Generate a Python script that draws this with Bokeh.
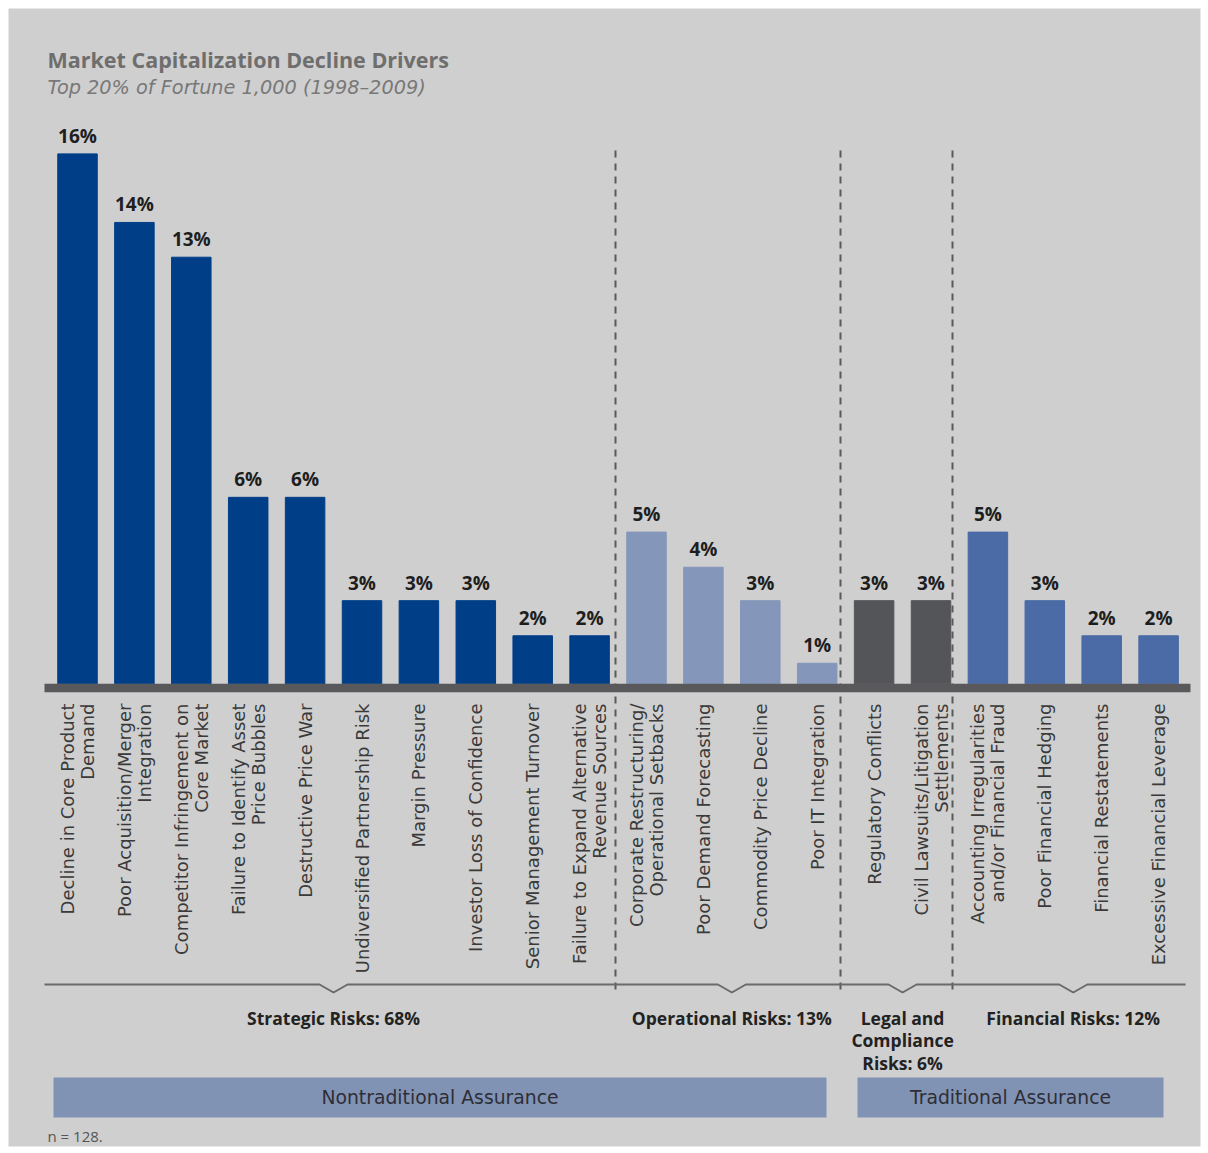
import math
from bokeh.plotting import figure
from bokeh.models import Range1d, ColumnDataSource
from bokeh.core.properties import value
from bokeh.embed import file_html
from bokeh.resources import INLINE

# ---------------- data ----------------
categories = [
    "Decline in Core Product\nDemand",
    "Poor Acquisition/Merger\nIntegration",
    "Competitor Infringement on\nCore Market",
    "Failure to Identify Asset\nPrice Bubbles",
    "Destructive Price War",
    "Undiversified Partnership Risk",
    "Margin Pressure",
    "Investor Loss of Confidence",
    "Senior Management Turnover",
    "Failure to Expand Alternative\nRevenue Sources",
    "Corporate Restructuring/\nOperational Setbacks",
    "Poor Demand Forecasting",
    "Commodity Price Decline",
    "Poor IT Integration",
    "Regulatory Conflicts",
    "Civil Lawsuits/Litigation\nSettlements",
    "Accounting Irregularities\nand/or Financial Fraud",
    "Poor Financial Hedging",
    "Financial Restatements",
    "Excessive Financial Leverage",
]
values = [16.0, 13.93, 12.88, 5.63, 5.63, 2.51, 2.51, 2.51, 1.45, 1.45,
          4.58, 3.52, 2.51, 0.62,
          2.51, 2.51,
          4.58, 2.51, 1.45, 1.45]
value_labels = ["16%", "14%", "13%", "6%", "6%", "3%", "3%", "3%", "2%", "2%",
                "5%", "4%", "3%", "1%",
                "3%", "3%",
                "5%", "3%", "2%", "2%"]
group_of_bar = [0] * 10 + [1] * 4 + [2] * 2 + [3] * 4
group_names = ["Strategic Risks: 68%", "Operational Risks: 13%",
               "Legal and\nCompliance\nRisks: 6%", "Financial Risks: 12%"]
group_colors = ["#003e88", "#8497ba", "#545559", "#4a6ba5"]
assurance_names = ["Nontraditional Assurance", "Traditional Assurance"]

TITLE = "Market Capitalization Decline Drivers"
SUBTITLE = "Top 20% of Fortune 1,000 (1998\u20132009)"
NOTE = "n = 128."

# ---------------- layout helpers (page px -> data) ----------------
PX0, PY0 = 77.0, 683.3   # page position of bar 0 centre / zero line
SX, SY = 56.9, 33.12     # px per bar slot, px per percent


def X(px):
    return (px - PX0) / SX


def Y(py):
    return (PY0 - py) / SY


BG = "#cfcfcf"
OS = value("Open Sans")
DJ = value("DejaVu Sans")

p = figure(width=1208, height=1152,
           x_range=Range1d(X(8), X(1200)), y_range=Range1d(Y(1146), Y(8)),
           x_axis_type=None, y_axis_type=None,
           output_backend="svg", toolbar_location=None,
           min_border_left=8, min_border_right=8,
           min_border_top=8, min_border_bottom=6,
           background_fill_color=BG, border_fill_color="white",
           outline_line_color=None)
p.grid.visible = False

# title
p.text(x=[X(47)], y=[Y(59)], text=[TITLE], text_font=OS,
       text_font_size="21.5px", text_font_style="bold", text_color="#6e6e6e",
       text_align="left", text_baseline="middle")
p.text(x=[X(47)], y=[Y(87)], text=[SUBTITLE], text_font=DJ,
       text_font_size="19.3px", text_font_style="italic", text_color="#787878",
       text_align="left", text_baseline="middle")

# bars
idx = list(range(len(values)))
colors = [group_colors[g] for g in group_of_bar]
src = ColumnDataSource(dict(x=idx, top=values, color=colors, lab=value_labels))
p.vbar(x="x", top="top", bottom=0, width=39.5 / SX, color="color", source=src)
p.text(x="x", y="top", text="lab", source=src, text_font=OS,
       text_font_size="19px", text_font_style="bold", text_color="#1e1e1e",
       text_align="center", text_baseline="bottom", y_offset=-5)

# baseline band
p.quad(left=[X(44)], right=[X(1190)], top=[0], bottom=[Y(691.7)],
       fill_color="#59595b", line_color=None)

# group separators
sep_px = [615, 840, 952]
p.segment(x0=[X(s) for s in sep_px], x1=[X(s) for s in sep_px],
          y0=[Y(150)] * 3, y1=[Y(990)] * 3,
          line_color="#5a5a5a", line_width=2, line_dash="7 6")

# category labels (rotated)
lx, ly, lt, loff = [], [], [], []
for i, c in enumerate(categories):
    parts = c.split("\n")
    offs = [0] if len(parts) == 1 else [-10, 10]
    for t, o in zip(parts, offs):
        lx.append(i)
        ly.append(Y(703))
        lt.append(t)
        loff.append(o)
p.text(x="x", y="y", text="t", x_offset="o",
       source=ColumnDataSource(dict(x=lx, y=ly, t=lt, o=loff)),
       angle=math.pi / 2, text_font=DJ, text_font_size="18px",
       text_color="#3a3a3a", text_align="right", text_baseline="middle")

# bracket line with notches, under the centre of each group's bars
centers = []
for k in range(len(group_names)):
    members = [i for i, g in enumerate(group_of_bar) if g == k]
    centers.append((min(members) + max(members)) / 2)
half_notch = 14 / SX
bx, by = [X(44)], [Y(984)]
for c in centers:
    bx += [c - half_notch, c, c + half_notch]
    by += [Y(984), Y(992), Y(984)]
bx.append(X(1185))
by.append(Y(984))
p.line(bx, by, line_color="#6a6a6a", line_width=2)

# group labels
gx, gy, gt = [], [], []
for k, name in enumerate(group_names):
    for j, t in enumerate(name.split("\n")):
        gx.append(centers[k])
        gy.append(Y(1017 + 22.5 * j))
        gt.append(t)
p.text(x=gx, y=gy, text=gt, text_font=OS, text_font_size="17.5px",
       text_font_style="bold", text_color="#222222",
       text_align="center", text_baseline="middle")

# assurance boxes
box_l, box_r = [53, 857], [826, 1163]
p.quad(left=[X(v) for v in box_l], right=[X(v) for v in box_r],
       top=[Y(1077)] * 2, bottom=[Y(1117)] * 2,
       fill_color="#8193b4", line_color=None)
p.text(x=[X((a + b) / 2) for a, b in zip(box_l, box_r)], y=[Y(1097)] * 2,
       text=assurance_names, text_font=DJ, text_font_size="18.8px",
       text_color="#2e2e36", text_align="center", text_baseline="middle")

p.text(x=[X(47)], y=[Y(1135)], text=[NOTE], text_font=OS,
       text_font_size="15px", text_color="#555555",
       text_align="left", text_baseline="middle")

open("out.html", "w").write(file_html(p, INLINE))
